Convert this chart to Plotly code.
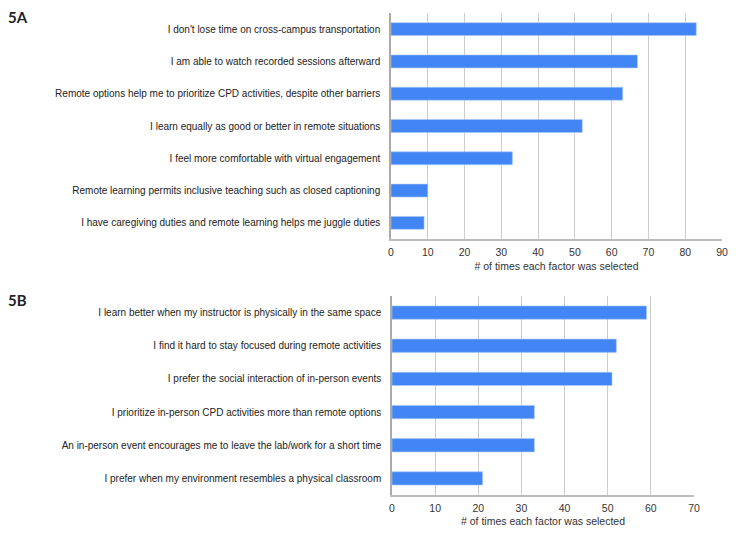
import plotly.graph_objects as go

# 5A: reasons for preferring remote CPD
factors_a = [
    "I don't lose time on cross-campus transportation",
    "I am able to watch recorded sessions afterward",
    "Remote options help me to prioritize CPD activities, despite other barriers",
    "I learn equally as good or better in remote situations",
    "I feel more comfortable with virtual engagement",
    "Remote learning permits inclusive teaching such as closed captioning",
    "I have caregiving duties and remote learning helps me juggle duties",
]
counts_a = [83, 67, 63, 52, 33, 10, 9]

# 5B: reasons for preferring in-person CPD
factors_b = [
    "I learn better when my instructor is physically in the same space",
    "I find it hard to stay focused during remote activities",
    "I prefer the social interaction of in-person events",
    "I prioritize in-person CPD activities more than remote options",
    "An in-person event encourages me to leave the lab/work for a short time",
    "I prefer when my environment resembles a physical classroom",
]
counts_b = [59, 52, 51, 33, 33, 21]

ticks_a = list(range(0, 91, 10))
ticks_b = list(range(0, 71, 10))

BAR = "#4285F4"
# page body has an 8px margin, so the figure is shrunk to fit the window
OFF = 8
W, H = 736 - 2 * OFF, 535 - 2 * OFF

fig = go.Figure()
fig.add_trace(go.Bar(x=counts_a, y=factors_a, orientation="h", width=0.4,
                     marker=dict(color=BAR, line=dict(color="#a9c7fa", width=0.6)),
                     xaxis="x", yaxis="y", showlegend=False))
fig.add_trace(go.Bar(x=counts_b, y=factors_b, orientation="h", width=0.4,
                     marker=dict(color=BAR, line=dict(color="#a9c7fa", width=0.6)),
                     xaxis="x2", yaxis="y2", showlegend=False))

def px_x(p):
    return (p - OFF) / W

def px_y(p):
    return 1 - (p - OFF) / H

lbl_font = dict(family="Liberation Sans, Arial, sans-serif", size=10, color="#222")
tick_font = dict(family="Liberation Sans, Arial, sans-serif", size=10.5, color="#333")

xcommon = dict(showgrid=True, gridcolor="#cccccc", gridwidth=1, zeroline=False,
               showline=True, linecolor="#bbbbbb", linewidth=1.5, automargin=False,
               tickfont=tick_font, ticks="", ticklabelstandoff=3, fixedrange=True)
ycommon = dict(showgrid=False, zeroline=False, showline=True, linecolor="#aaaaaa",
               linewidth=1.5, tickfont=lbl_font, ticks="", ticklabelstandoff=7,
               automargin=False, autorange=False, categoryorder="array")

fig.update_layout(
    width=W, height=H,
    margin=dict(l=0, r=0, t=0, b=0),
    paper_bgcolor="white", plot_bgcolor="white",
    xaxis=dict(xcommon, domain=[px_x(391), px_x(722)], range=[0, 90],
               tickvals=ticks_a, anchor="y",
               title=dict(text="# of times each factor was selected",
                          font=tick_font, standoff=5)),
    yaxis=dict(ycommon, domain=[px_y(239), px_y(13)], anchor="x",
               categoryarray=factors_a[::-1], range=[-0.5, 6.5]),
    xaxis2=dict(xcommon, domain=[px_x(392), px_x(694)], range=[0, 70],
                tickvals=ticks_b, anchor="y2",
                title=dict(text="# of times each factor was selected",
                           font=tick_font, standoff=5)),
    yaxis2=dict(ycommon, domain=[px_y(495), px_y(296)], anchor="x2",
                categoryarray=factors_b[::-1], range=[-0.5, 5.5]),
    annotations=[
        dict(text="<b>5A</b>", x=px_x(6), y=px_y(17), xref="paper", yref="paper",
             xanchor="left", yanchor="middle", showarrow=False,
             font=dict(family="Lato, DejaVu Sans, sans-serif", size=15, color="#222")),
        dict(text="<b>5B</b>", x=px_x(6), y=px_y(300), xref="paper", yref="paper",
             xanchor="left", yanchor="middle", showarrow=False,
             font=dict(family="Lato, DejaVu Sans, sans-serif", size=15, color="#222")),
    ],
)

fig.write_html("out.html")
